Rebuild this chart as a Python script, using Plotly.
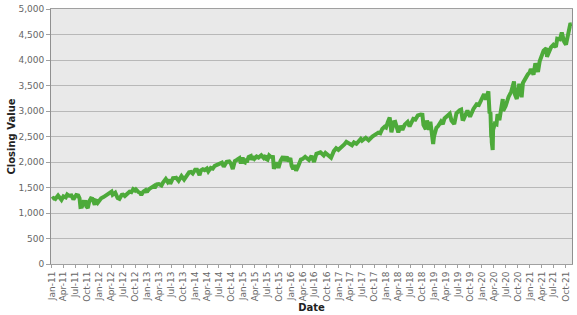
import plotly.graph_objects as go

dates = [
    "2011-01-03","2011-01-14","2011-01-28","2011-02-18","2011-03-16","2011-03-31","2011-04-18","2011-04-29",
    "2011-05-13","2011-05-31","2011-06-15","2011-06-30","2011-07-07","2011-07-22","2011-08-01","2011-08-08",
    "2011-08-19","2011-08-31","2011-09-16","2011-09-22","2011-10-03","2011-10-14","2011-10-27","2011-11-08",
    "2011-11-25","2011-11-30","2011-12-12","2011-12-19","2011-12-30",
    "2012-01-13","2012-01-31","2012-02-15","2012-02-29","2012-03-16","2012-04-02","2012-04-10","2012-04-30",
    "2012-05-18","2012-06-01","2012-06-19","2012-06-29","2012-07-12","2012-07-31","2012-08-17","2012-08-31",
    "2012-09-14","2012-09-28","2012-10-05","2012-10-23","2012-11-07","2012-11-15","2012-11-30","2012-12-18",
    "2012-12-28","2012-12-31",
    "2013-01-15","2013-01-31","2013-02-19","2013-02-25","2013-03-14","2013-03-29","2013-04-18","2013-04-30",
    "2013-05-21","2013-06-05","2013-06-18","2013-06-24","2013-07-15","2013-07-31","2013-08-02","2013-08-27",
    "2013-09-18","2013-10-08","2013-10-31","2013-11-15","2013-11-29","2013-12-13","2013-12-31",
    "2014-01-15","2014-02-03","2014-02-14","2014-02-28","2014-03-14","2014-03-31","2014-04-11","2014-04-30",
    "2014-05-15","2014-05-30","2014-06-13","2014-06-30","2014-07-24","2014-08-07","2014-08-29","2014-09-18",
    "2014-09-30","2014-10-15","2014-10-31","2014-11-14","2014-11-28","2014-12-05","2014-12-16","2014-12-29",
    "2015-01-06","2015-01-15","2015-01-22","2015-01-30","2015-02-13","2015-03-02","2015-03-10","2015-03-23",
    "2015-03-31","2015-04-15","2015-04-30","2015-05-21","2015-06-08","2015-06-23","2015-06-29","2015-07-08",
    "2015-07-20","2015-07-31","2015-08-18","2015-08-25","2015-09-16","2015-09-29","2015-10-15","2015-11-03",
    "2015-11-13","2015-12-01","2015-12-14","2015-12-29",
    "2016-01-08","2016-01-20","2016-02-01","2016-02-11","2016-02-29","2016-03-18","2016-03-31","2016-04-20",
    "2016-05-19","2016-06-08","2016-06-27","2016-07-15","2016-08-15","2016-09-09","2016-09-22","2016-10-13",
    "2016-11-04","2016-11-25","2016-12-13","2016-12-30",
    "2017-01-26","2017-02-15","2017-03-01","2017-03-27","2017-04-13","2017-04-28","2017-05-17","2017-06-19",
    "2017-06-29","2017-07-27","2017-08-10","2017-08-18","2017-09-15","2017-10-16","2017-10-31","2017-11-15",
    "2017-11-30","2017-12-18","2017-12-29",
    "2018-01-12","2018-01-26","2018-02-08","2018-02-26","2018-03-09","2018-03-22","2018-04-02","2018-04-18",
    "2018-05-03","2018-05-21","2018-06-12","2018-06-27","2018-07-25","2018-08-10","2018-08-29","2018-09-20",
    "2018-10-03","2018-10-11","2018-10-29","2018-11-07","2018-11-23","2018-12-03","2018-12-14","2018-12-24",
    "2018-12-31",
    "2019-01-18","2019-01-31","2019-02-22","2019-03-08","2019-03-21","2019-04-30","2019-05-13","2019-06-03",
    "2019-06-20","2019-07-15","2019-07-26","2019-08-05","2019-08-14","2019-09-12","2019-10-02","2019-10-28",
    "2019-11-27","2019-12-03","2019-12-27",
    "2020-01-17","2020-01-31","2020-02-19","2020-02-28","2020-03-06","2020-03-12","2020-03-13","2020-03-16",
    "2020-03-23","2020-03-26","2020-04-08","2020-04-21","2020-04-29","2020-05-13","2020-06-08","2020-06-11",
    "2020-06-30","2020-07-22","2020-08-12","2020-09-02","2020-09-08","2020-09-23","2020-10-12","2020-10-30",
    "2020-11-09","2020-11-27","2020-12-17","2020-12-31",
    "2021-01-08","2021-01-29","2021-02-12","2021-03-04","2021-03-17","2021-04-16","2021-05-07","2021-05-12",
    "2021-06-11","2021-06-30","2021-07-19","2021-07-29","2021-08-19","2021-09-02","2021-09-20","2021-10-04",
    "2021-10-21","2021-11-05","2021-11-18",
]

closing = [
    1271,1293,1276,1343,1257,1326,1305,1364,
    1338,1345,1266,1321,1354,1345,1287,1119,
    1123,1219,1216,1129,1099,1225,1285,1276,
    1159,1247,1236,1205,1258,
    1289,1312,1344,1366,1404,1419,1358,1398,
    1295,1278,1357,1362,1334,1379,1418,1407,
    1466,1441,1461,1413,1394,1353,1416,1447,
    1402,1426,
    1472,1498,1530,1488,1563,1569,1541,1598,
    1669,1609,1652,1573,1682,1686,1709,1631,
    1725,1656,1757,1798,1806,1775,1848,
    1848,1741,1838,1859,1841,1872,1815,1884,
    1870,1924,1937,1960,1988,1910,2003,2011,
    1972,1862,2018,2039,2068,2075,1972,2090,
    2003,1992,2063,1995,2097,2117,2044,2109,
    2068,2107,2086,2131,2080,2124,2058,2046,
    2128,2104,2097,1867,1996,1884,2024,2109,
    2023,2103,2012,2078,
    1922,1859,1940,1829,1932,2049,2060,2102,
    2040,2119,2001,2162,2190,2128,2177,2132,
    2085,2213,2271,2239,
    2297,2349,2396,2342,2329,2384,2357,2453,
    2419,2475,2438,2426,2500,2557,2575,2564,
    2648,2690,2674,
    2786,2873,2581,2780,2786,2643,2582,2708,
    2630,2733,2787,2699,2846,2833,2914,2931,
    2926,2728,2641,2814,2633,2790,2600,2351,
    2507,
    2671,2704,2793,2743,2855,2946,2812,2744,
    2954,3014,3026,2844,2840,3010,2887,3040,
    3154,3093,3240,
    3330,3226,3386,2954,2972,2481,2711,2386,
    2237,2630,2750,2737,2939,2820,3232,3002,
    3100,3276,3380,3580,3332,3237,3534,3270,
    3550,3638,3722,3756,
    3824,3714,3934,3768,3974,4185,4232,4063,
    4247,4298,4258,4419,4405,4537,4358,4300,
    4549,4698,4704,
]

y_ticks = [0, 500, 1000, 1500, 2000, 2500, 3000, 3500, 4000, 4500, 5000]

fig = go.Figure()
fig.add_trace(go.Scatter(
    x=dates, y=closing, mode="lines",
    line=dict(color="#4DAA3A", width=4),
    hoverinfo="x+y",
))

font_family = "DejaVu Sans"
fig.update_layout(
    width=577, height=315,
    margin=dict(l=51, r=4, t=5, b=48),
    paper_bgcolor="white",
    plot_bgcolor="#E9E9E9",
    showlegend=False,
    font=dict(family=font_family, size=9, color="#666666"),
    xaxis=dict(
        type="date",
        range=["2010-12-26", "2021-11-19"],
        tickformat="%b-%y",
        dtick="M3",
        tick0="2011-01-01",
        tickangle=-90,
        showgrid=False,
        showline=True, linecolor="#A0A0A0", linewidth=1, mirror=True,
        ticks="outside", ticklen=3, tickcolor="#A0A0A0",
        tickfont=dict(family=font_family, size=9, color="#666666"),
        title=dict(text="<b>Date</b>", font=dict(family=font_family, size=10, color="#222222"), standoff=2),
        zeroline=False,
    ),
    yaxis=dict(
        range=[0, 5000],
        tickvals=y_ticks,
        tickformat=",d",
        showgrid=True, gridcolor="#B8B8B8", gridwidth=1,
        showline=True, linecolor="#909090", linewidth=1, mirror=True,
        ticks="outside", ticklen=4, tickcolor="#A0A0A0",
        tickfont=dict(family=font_family, size=9, color="#666666"),
        title=dict(text="<b>Closing Value</b>", font=dict(family=font_family, size=10, color="#222222"), standoff=0),
        zeroline=False,
    ),
)

fig.write_html("out.html")
